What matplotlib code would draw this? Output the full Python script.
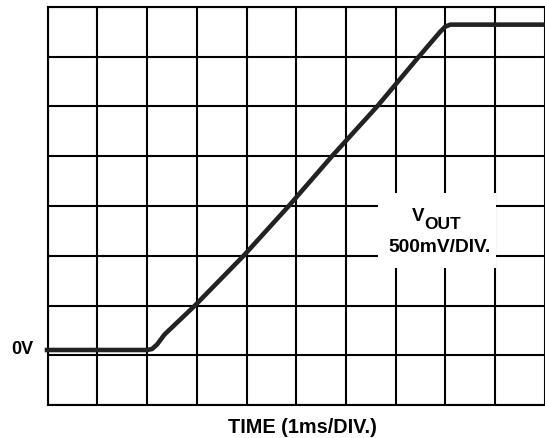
import matplotlib
matplotlib.use("Agg")
import matplotlib.pyplot as plt
from matplotlib.patches import Rectangle

plt.rcParams['font.family'] = ['Liberation Sans', 'DejaVu Sans']

# Trace (x in divisions of 1 ms, y in divisions of 500 mV)
trace_x = [-0.06, 2.0, 2.1, 2.2, 2.35, 2.96, 3.94, 4.85, 5.72, 6.63, 7.47, 7.9, 8.0, 8.1, 10.0]
trace_y = [1.11, 1.11, 1.13, 1.22, 1.42, 2.0, 3.0, 4.0, 5.0, 6.0, 7.0, 7.5, 7.6, 7.64, 7.64]

n_xdiv = 10
n_ydiv = 8

x_label = "TIME (1ms/DIV.)"
zero_label = "0V"
scale_label = "500mV/DIV."

W, H = 545, 438
fig = plt.figure(figsize=(W / 100, H / 100), dpi=100)
left_px, right_px, top_px, bottom_px = 47.7, 544.7, 6.7, 405.3
ax = fig.add_axes([left_px / W, (H - bottom_px) / H,
                   (right_px - left_px) / W, (bottom_px - top_px) / H])
ax.set_xlim(0, n_xdiv)
ax.set_ylim(0, n_ydiv)
ax.set_xticks(range(n_xdiv + 1))
ax.set_yticks(range(n_ydiv + 1))
ax.tick_params(length=0, labelbottom=False, labelleft=False)
ax.set_axisbelow(True)
ax.grid(True, color='black', linewidth=1.5)
for name, sp in ax.spines.items():
    sp.set_linewidth(1.5)
    sp.set_color('black')
ax.spines['right'].set_visible(False)

# white label box over the grid
ax.add_patch(Rectangle((6.65, 2.76), 2.37, 1.5, facecolor='white',
                       edgecolor='none', zorder=1))

ax.plot(trace_x, trace_y, color='#222222', linewidth=3.3, clip_on=False,
        solid_capstyle='butt', zorder=3)

ax.text(7.57, 3.69, "V", ha='right', va='baseline', fontsize=13.5,
        fontweight='bold', zorder=4)
ax.text(7.57, 3.54, "OUT", ha='left', va='baseline', fontsize=12.5,
        fontweight='bold', zorder=4)
ax.text(7.89, 3.07, scale_label, ha='center', va='baseline', fontsize=13.8,
        fontweight='bold', zorder=4)

fig.text(33 / W, (H - 349) / H, zero_label, ha='right', va='center',
         fontsize=13, fontweight='bold')
fig.text(302.5 / W, (H - 433) / H, x_label, ha='center', va='baseline',
         fontsize=14.3, fontweight='bold')

fig.savefig("out.png", dpi=100)
